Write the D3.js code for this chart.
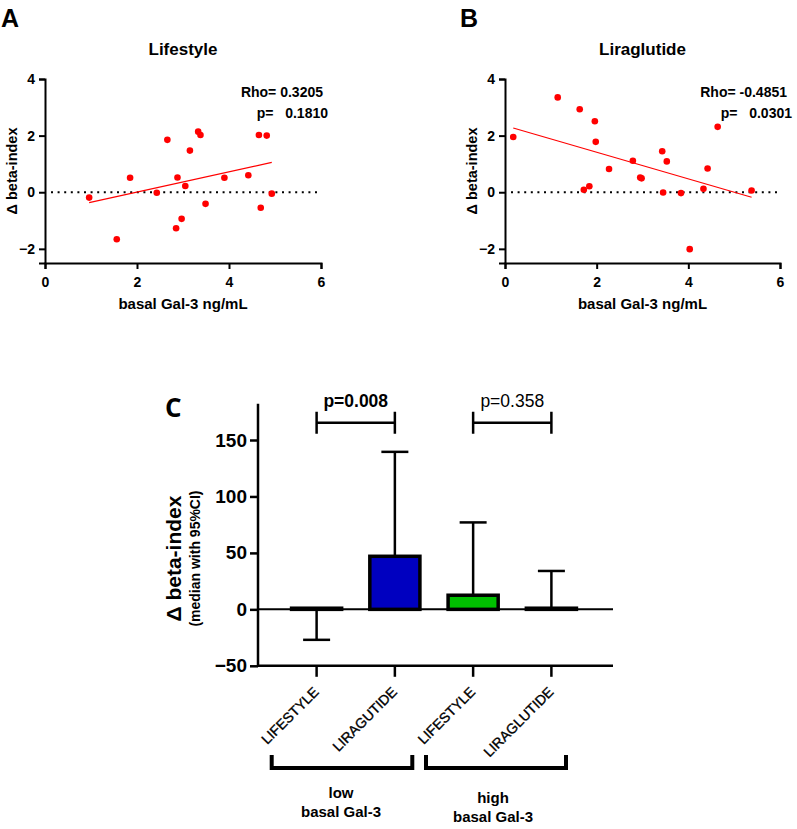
<!DOCTYPE html>
<html>
<head>
<meta charset="utf-8">
<script src="https://cdn.jsdelivr.net/npm/d3@7"></script>
<style>
  body { margin: 0; background: #fff; }
  svg { font-family: "Liberation Sans", Arial, sans-serif; }
</style>
</head>
<body>
<div id="chart"></div>
<script>
// panel A: lifestyle
const lifeX = [0.96, 1.56, 1.85, 2.43, 2.66, 2.88, 2.85, 2.97, 3.05, 3.15, 3.33, 3.38, 3.49, 3.90, 4.42, 4.65, 4.69, 4.82, 4.93];
const lifeY = [-0.19, -1.66, 0.51, -0.02, 1.85, 0.52, -1.27, -0.94, 0.22, 1.47, 2.14, 2.02, -0.41, 0.51, 0.60, 2.02, -0.55, 2.00, -0.05];
const lifeFit = [0.358, -0.71]; // slope, intercept
// panel B: liraglutide
const liraX = [0.18, 1.15, 1.63, 1.72, 1.84, 1.96, 1.98, 2.27, 2.79, 2.95, 2.98, 3.43, 3.45, 3.53, 3.84, 4.03, 4.33, 4.42, 4.64, 5.38];
const liraY = [1.95, 3.35, 2.93, 0.09, 0.21, 2.51, 1.78, 0.82, 1.11, 0.52, 0.49, 1.45, -0.01, 1.09, -0.03, -2.01, 0.12, 0.84, 2.31, 0.06];
const liraFit = [-0.471, 2.355];
const scatterXTicks = [0, 2, 4, 6];
const scatterYTicks = [-2, 0, 2, 4];

// panel C: bars
const barLabels = ["LIFESTYLE", "LIRAGUTIDE", "LIFESTYLE", "LIRAGLUTIDE"];
const barMedian = [1, 47, 12.5, 1];
const barLow = [-27, 47, 12.5, 1];
const barHigh = [1, 139.5, 77, 34];
const barColors = ["#ffffff", "#0000c0", "#00c000", "#ffffff"];
const barYTicks = [-50, 0, 50, 100, 150];
const groups = [["low", "basal Gal-3"], ["high", "basal Gal-3"]];
const pValues = ["p=0.008", "p=0.358"];

const W = 797, H = 829;
const svg = d3.select("#chart").append("svg").attr("width", W).attr("height", H);

function scatter(opt) {
  const g = svg.append("g");
  const x = d3.scaleLinear().domain([0, 6]).range([opt.x0, opt.x1]);
  const y = d3.scaleLinear().domain([-2.5, 4]).range([263, 79]);

  g.append("text").attr("x", opt.letterX).attr("y", 27)
    .style("font-size", "25px").style("font-weight", "bold").text(opt.letter);
  g.append("text").attr("x", (opt.x0 + opt.x1) / 2).attr("y", 55)
    .attr("text-anchor", "middle").style("font-size", "17px").style("font-weight", "bold").text(opt.title);

  // 零线
  g.append("line").attr("x1", x(0) + 6).attr("x2", x(5.95)).attr("y1", y(0)).attr("y2", y(0))
    .attr("stroke", "#000").attr("stroke-width", 2).attr("stroke-dasharray", "2,4.6");

  const xa = g.append("g").attr("transform", `translate(0,${y(-2.5)})`)
    .call(d3.axisBottom(x).tickValues(scatterXTicks).tickFormat(d3.format("d")).tickSize(6).tickPadding(8));
  const ya = g.append("g").attr("transform", `translate(${x(0)},0)`)
    .call(d3.axisLeft(y).tickValues(scatterYTicks).tickFormat(d3.format("d")).tickSize(6).tickPadding(4));
  [xa, ya].forEach(a => {
    a.select(".domain").attr("stroke-width", 2);
    a.selectAll(".tick line").attr("stroke-width", 2);
    a.selectAll("text").style("font-size", "14px").style("font-weight", "bold").attr("fill", "#000");
  });

  g.append("text").attr("x", (opt.x0 + opt.x1) / 2).attr("y", 309)
    .attr("text-anchor", "middle").style("font-size", "15px").style("font-weight", "bold").text("basal Gal-3 ng/mL");
  g.append("text").attr("transform", `translate(${opt.x0 - 28},${y(0.75)}) rotate(-90)`)
    .attr("text-anchor", "middle").style("font-size", "14.5px").style("font-weight", "bold").text("Δ beta-index");

  // 回归线
  const xs = d3.extent(opt.xs);
  g.append("line")
    .attr("x1", x(xs[0])).attr("y1", y(opt.fit[0] * xs[0] + opt.fit[1]))
    .attr("x2", x(xs[1])).attr("y2", y(opt.fit[0] * xs[1] + opt.fit[1]))
    .attr("stroke", "#ff0000").attr("stroke-width", 1.2);

  g.selectAll("circle.pt").data(opt.xs).enter().append("circle")
    .attr("class", "pt")
    .attr("cx", d => x(d)).attr("cy", (d, i) => y(opt.ys[i])).attr("r", 3.3)
    .attr("fill", "#ff0000");

  g.append("text").attr("x", opt.statX).attr("y", 97).attr("text-anchor", "end")
    .style("font-size", "14px").style("font-weight", "bold").attr("xml:space", "preserve").text(opt.rho);
  g.append("text").attr("x", opt.statX + 5).attr("y", 118).attr("text-anchor", "end")
    .style("font-size", "14px").style("font-weight", "bold").attr("xml:space", "preserve").text(opt.p);
}

scatter({ x0: 45, x1: 321, letter: "A", letterX: 1, title: "Lifestyle", xs: lifeX, ys: lifeY, fit: lifeFit,
  statX: 323, rho: "Rho= 0.3205", p: "p=   0.1810" });
scatter({ x0: 505, x1: 780, letter: "B", letterX: 460, title: "Liraglutide", xs: liraX, ys: liraY, fit: liraFit,
  statX: 787, rho: "Rho= -0.4851", p: "p=   0.0301" });

// ---------- panel C ----------
const gc = svg.append("g");
const yC = d3.scaleLinear().domain([-50, 150]).range([665.8, 440]);
const xC = d3.scaleBand().domain(d3.range(barLabels.length)).range([272, 596]).paddingInner(0.36).paddingOuter(0.25);
const axisX0 = 258, axisX1 = 613;

gc.append("text").attr("x", 165).attr("y", 417)
  .style("font-family", "'Open Sans', sans-serif").style("font-size", "26px").style("font-weight", "bold").text("C");

// y axis
const yAx = gc.append("g").attr("transform", `translate(${axisX0},0)`)
  .call(d3.axisLeft(yC).tickValues(barYTicks).tickSize(8).tickPadding(3).tickSizeOuter(0));
yAx.select(".domain").attr("d", `M0,${yC(-50)}V${yC(182)}`).attr("stroke-width", 2.5);
yAx.selectAll(".tick line").attr("stroke-width", 2.5);
yAx.selectAll("text").style("font-size", "19px").style("font-weight", "bold").attr("fill", "#000");

// 底部轴 + 零线
gc.append("line").attr("x1", axisX0).attr("x2", axisX1).attr("y1", yC(-50)).attr("y2", yC(-50))
  .attr("stroke", "#000").attr("stroke-width", 2.5);
gc.append("line").attr("x1", axisX0).attr("x2", axisX1).attr("y1", yC(0)).attr("y2", yC(0))
  .attr("stroke", "#000").attr("stroke-width", 2);

const cx = i => xC(i) + xC.bandwidth() / 2;

// category ticks and labels
barLabels.forEach((lab, i) => {
  gc.append("line").attr("x1", cx(i)).attr("x2", cx(i)).attr("y1", yC(-50)).attr("y2", yC(-50) + 11)
    .attr("stroke", "#000").attr("stroke-width", 2.5);
  gc.append("text").attr("transform", `translate(${cx(i) + 3},${yC(-50) + 27}) rotate(-45)`)
    .attr("text-anchor", "end").style("font-size", "14px")
    .attr("stroke", "#000").attr("stroke-width", 0.35).text(lab);
});

// bars
gc.selectAll("rect.bar").data(barMedian).enter().append("rect")
  .attr("class", "bar")
  .attr("x", (d, i) => xC(i)).attr("width", xC.bandwidth())
  .attr("y", d => yC(d)).attr("height", d => yC(0) - yC(d))
  .attr("fill", (d, i) => barColors[i]).attr("stroke", "#000").attr("stroke-width", 3.5);

// error bars
barLabels.forEach((lab, i) => {
  const end = barHigh[i] > barMedian[i] ? barHigh[i] : barLow[i];
  gc.append("line").attr("x1", cx(i)).attr("x2", cx(i)).attr("y1", yC(barMedian[i])).attr("y2", yC(end))
    .attr("stroke", "#000").attr("stroke-width", 2.5);
  gc.append("line").attr("x1", cx(i) - 13.5).attr("x2", cx(i) + 13.5).attr("y1", yC(end)).attr("y2", yC(end))
    .attr("stroke", "#000").attr("stroke-width", 2.5);
});

// significance brackets
[[0, 1], [2, 3]].forEach((pair, k) => {
  const a = cx(pair[0]), b = cx(pair[1]);
  const yb = 422.7;
  gc.append("path").attr("d", `M${a},${yb - 11}V${yb + 11}M${a},${yb}H${b}M${b},${yb - 11}V${yb + 11}`)
    .attr("fill", "none").attr("stroke", "#000").attr("stroke-width", 2.5);
  gc.append("text").attr("x", (a + b) / 2).attr("y", 407).attr("text-anchor", "middle")
    .style("font-size", "17.5px")
    .style("font-weight", k === 0 ? "bold" : "normal").text(pValues[k]);
});

// y label
gc.append("text").attr("transform", `translate(181,${yC(45)}) rotate(-90)`)
  .attr("text-anchor", "middle").style("font-size", "21px").style("font-weight", "bold").text("Δ beta-index");
gc.append("text").attr("transform", `translate(200,${yC(45)}) rotate(-90)`)
  .attr("text-anchor", "middle").style("font-size", "14px").style("font-weight", "bold").text("(median with 95%CI)");

// group brackets
[[271.7, 412.3], [426, 566]].forEach((r, k) => {
  gc.append("path").attr("d", `M${r[0]},755V768H${r[1]}V755`)
    .attr("fill", "none").attr("stroke", "#000").attr("stroke-width", 4);
  const t = gc.append("text").attr("text-anchor", "middle")
    .style("font-size", "15px").style("font-weight", "bold");
  const mid = (r[0] + r[1]) / 2 - (k === 0 ? 1 : 3);
  t.append("tspan").attr("x", mid).attr("y", k === 0 ? 798 : 803).text(groups[k][0]);
  t.append("tspan").attr("x", mid).attr("y", k === 0 ? 817 : 822).text(groups[k][1]);
});
</script>
</body>
</html>
